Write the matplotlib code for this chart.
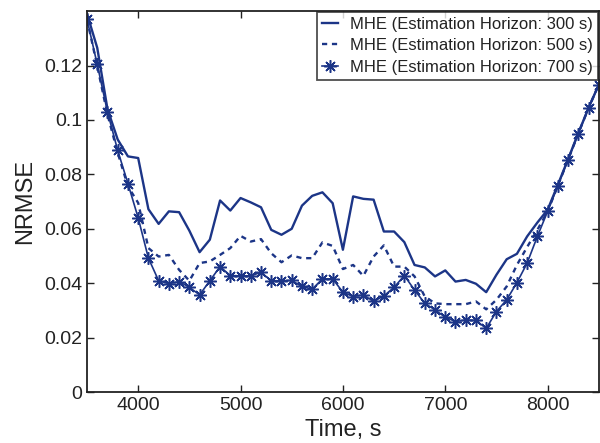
import matplotlib
matplotlib.use('Agg')
import matplotlib.pyplot as plt

plt.rcParams['font.family'] = ['Liberation Sans', 'DejaVu Sans']

# time axis, one sample every 100 s
time_s = list(range(3500, 8600, 100))

nrmse_300 = [0.139, 0.1265, 0.104, 0.0928, 0.0866, 0.086, 0.0672, 0.0618, 0.0664, 0.0661,
             0.0593, 0.0514, 0.056, 0.0704, 0.0667, 0.0713, 0.0697, 0.0679, 0.0596, 0.0578,
             0.060, 0.0685, 0.0721, 0.0734, 0.0694, 0.0523, 0.0719, 0.071, 0.0707, 0.059,
             0.059, 0.0551, 0.0467, 0.0458, 0.0425, 0.0447, 0.0406, 0.0412, 0.0398, 0.0367,
             0.0431, 0.0488, 0.0508, 0.0572, 0.0623, 0.067, 0.0762, 0.0856, 0.0952, 0.1044, 0.113]

nrmse_500 = [0.137, 0.1198, 0.102, 0.0879, 0.0756, 0.0695, 0.0529, 0.0498, 0.0504, 0.0449,
             0.0409, 0.0474, 0.048, 0.0504, 0.0529, 0.0574, 0.0553, 0.0562, 0.051, 0.0477,
             0.0502, 0.0492, 0.0492, 0.055, 0.0537, 0.0452, 0.0467, 0.0427, 0.0498, 0.0539,
             0.0461, 0.0461, 0.0425, 0.0351, 0.0326, 0.0323, 0.0323, 0.0323, 0.0333, 0.0304,
             0.0339, 0.0388, 0.0467, 0.0533, 0.0596, 0.0664, 0.0758, 0.0854, 0.095, 0.1044, 0.113]

nrmse_700 = [0.137, 0.1204, 0.103, 0.0888, 0.0766, 0.064, 0.0492, 0.0409, 0.0398, 0.0406,
             0.0385, 0.0357, 0.0409, 0.0461, 0.0428, 0.0427, 0.0427, 0.044, 0.0409, 0.0409,
             0.041, 0.0388, 0.0378, 0.0416, 0.0416, 0.0367, 0.0351, 0.0357, 0.0333, 0.0353,
             0.0385, 0.0428, 0.0375, 0.0326, 0.0302, 0.0275, 0.0259, 0.0265, 0.0263, 0.0234,
             0.0296, 0.0339, 0.0402, 0.0474, 0.0572, 0.0664, 0.0758, 0.0854, 0.095, 0.1044, 0.113]

col = '#1c3587'

fig = plt.figure(figsize=(6, 4.43), dpi=100)
ax = fig.add_axes([0.145, 0.115, 0.853, 0.86])

ax.plot(time_s, nrmse_300, '-', color=col, lw=1.7, label='MHE (Estimation Horizon: 300 s)')
ax.plot(time_s, nrmse_500, '--', color=col, lw=1.7, dashes=(2.2, 2),
        label='MHE (Estimation Horizon: 500 s)')
# matlab style '*' marker: 8 spokes
ax.plot(time_s, nrmse_700, '-', color=col, lw=1.2, marker=(8, 2, 0), ms=9, mew=1.1,
        label='MHE (Estimation Horizon: 700 s)')

ax.set_xlim(3500, 8500)
ax.set_ylim(0, 0.14)
ax.set_xticks([4000, 5000, 6000, 7000, 8000])
ax.set_yticks([0, 0.02, 0.04, 0.06, 0.08, 0.1, 0.12])
ax.set_yticklabels(['0', '0.02', '0.04', '0.06', '0.08', '0.1', '0.12'])
ax.tick_params(direction='in', top=True, right=True, labelsize=14, length=5, width=1,
               colors='#222222')
for s in ax.spines.values():
    s.set_linewidth(1.3)
    s.set_color('#222222')

ax.set_xlabel('Time, s', fontsize=17, labelpad=4, color='#222222')
ax.set_ylabel('NRMSE', fontsize=17, labelpad=6, color='#222222')

leg = ax.legend(loc='upper right', fontsize=12, frameon=True, fancybox=False,
                edgecolor='#222222', borderpad=0.3, labelspacing=0.38,
                handlelength=1.0, handletextpad=0.7, borderaxespad=0.05)
leg.get_frame().set_linewidth(1.3)
for t in leg.get_texts():
    t.set_color('#222222')

fig.savefig('out.png', dpi=100)
